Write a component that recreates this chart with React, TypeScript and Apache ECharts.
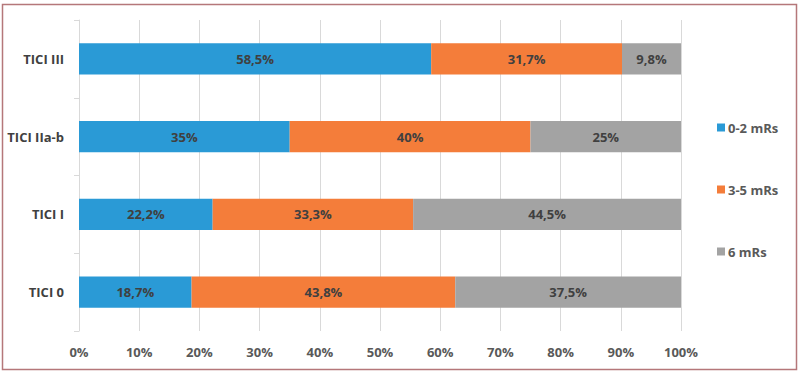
import React, { useEffect, useRef } from "react";
import * as echarts from "echarts";

const categories = ["TICI 0", "TICI I", "TICI IIa-b", "TICI III"];
const seriesNames = ["0-2 mRs", "3-5 mRs", "6 mRs"];
const good = [18.7, 22.2, 35, 58.5];
const moderate = [43.8, 33.3, 40, 31.7];
const death = [37.5, 44.5, 25, 9.8];
const colors = ["#2a9ad6", "#f47d3a", "#a3a3a3"];

const FONT = "Open Sans";

function fmt(v: number) {
  return String(v).replace(".", ",") + "%";
}

export default function App() {
  const ref = useRef<HTMLDivElement>(null);
  useEffect(() => {
    if (!ref.current) return;
    const chart = echarts.init(ref.current, undefined, { renderer: "svg" });
    const values = [good, moderate, death];
    chart.setOption({
      animation: false,
      backgroundColor: "#ffffff",
      textStyle: { fontFamily: FONT },
      graphic: [
        {
          type: "rect",
          shape: { x: 2.5, y: 4.5, width: 794, height: 365 },
          style: { fill: "none", stroke: "#b5777a", lineWidth: 1.5 },
          silent: true,
          z: 100,
        },
      ],
      legend: {
        orient: "vertical",
        left: 712,
        top: 116,
        itemGap: 49,
        itemWidth: 8,
        itemHeight: 8,
        icon: "rect",
        data: seriesNames,
        textStyle: { fontFamily: FONT, fontSize: 13, fontWeight: "bold", color: "#595959", padding: [0, 0, 0, -2] },
      },
      grid: { left: 79, right: 119, top: 20, bottom: 43 },
      xAxis: {
        type: "value",
        min: 0,
        max: 100,
        interval: 10,
        axisLabel: {
          formatter: (v: number) => v + "%",
          fontFamily: FONT,
          fontSize: 13,
          fontWeight: "bold",
          color: "#595959",
          margin: 14,
        },
        axisLine: { show: false },
        axisTick: { show: false },
        splitLine: { show: true, lineStyle: { color: "#d9d9d9", width: 1 } },
      },
      yAxis: {
        type: "category",
        data: categories,
        axisLine: { show: true, lineStyle: { color: "#d9d9d9" } },
        axisTick: { show: true, length: 5, lineStyle: { color: "#d9d9d9" } },
        axisLabel: {
          fontFamily: FONT,
          fontSize: 13,
          fontWeight: "bold",
          color: "#404040",
          margin: 15,
        },
      },
      series: seriesNames.map((name, i) => ({
        name,
        type: "bar",
        stack: "total",
        barWidth: "40%",
        data: values[i],
        itemStyle: { color: colors[i] },
        label: {
          show: true,
          position: "inside",
          formatter: (p: any) => fmt(p.value),
          fontFamily: FONT,
          fontSize: 13,
          fontWeight: "bold",
          color: "#404040",
        },
      })),
    });
    return () => chart.dispose();
  }, []);
  return (
    <div
      ref={ref}
      style={{ position: "fixed", left: 0, top: 0, width: 800, height: 374 }}
    />
  );
}
